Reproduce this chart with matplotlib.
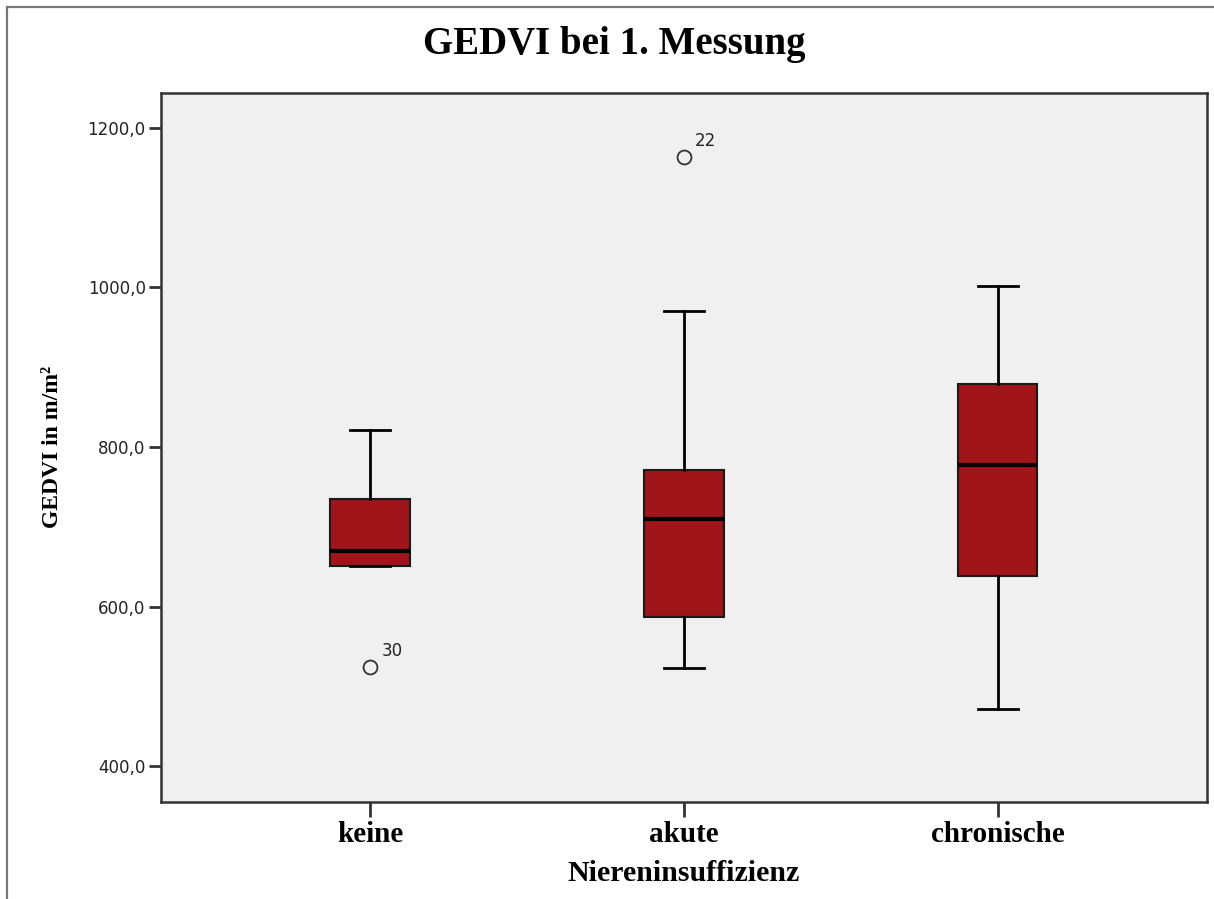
import numpy as np
import matplotlib
matplotlib.use('Agg')
import matplotlib.pyplot as plt
from matplotlib.lines import Line2D

gruppen = ['keine', 'akute', 'chronische']
whisker_unten = [651, 523, 472]
q1 = [651, 587, 639]
median = [670, 710, 777]
q3 = [735, 771, 879]
whisker_oben = [821, 970, 1002]
ausreisser = [[524], [1163], []]
ausreisser_nr = [['30'], ['22'], []]

y_ticks = [400, 600, 800, 1000, 1200]
y_ticklabels = ['400,0', '600,0', '800,0', '1000,0', '1200,0']

serif = ['Liberation Serif', 'DejaVu Serif']
rot = '#A01519'

fig = plt.figure(figsize=(12.14, 8.99), dpi=100)
ax = fig.add_axes([0.1326, 0.1079, 0.8614, 0.789])
ax.set_facecolor('#F0F0F0')

stats = []
for i in range(len(gruppen)):
    stats.append({'whislo': whisker_unten[i], 'q1': q1[i], 'med': median[i],
                  'q3': q3[i], 'whishi': whisker_oben[i], 'fliers': ausreisser[i],
                  'label': gruppen[i]})

pos = np.arange(1, len(gruppen) + 1)
ax.bxp(stats, positions=pos, widths=0.255, patch_artist=True, showfliers=True,
       boxprops=dict(facecolor=rot, edgecolor='#1a1a1a', linewidth=1.5),
       medianprops=dict(color='black', linewidth=3),
       whiskerprops=dict(color='black', linewidth=2),
       capprops=dict(color='black', linewidth=2),
       flierprops=dict(marker='o', markersize=10, markerfacecolor='none',
                       markeredgecolor='#333333', markeredgewidth=1.3))

# Fallnummern neben die Ausreisser
for i in range(len(gruppen)):
    for v, nr in zip(ausreisser[i], ausreisser_nr[i]):
        ax.annotate(nr, (pos[i], v), xytext=(8, 8), textcoords='offset points',
                    fontsize=12, color='#222222', family='DejaVu Sans')

ax.set_xlim(0.333, 3.667)
ax.set_ylim(355.3, 1243.9)
ax.set_yticks(y_ticks)
ax.set_yticklabels(y_ticklabels, fontsize=12, color='#222222', family='DejaVu Sans')
ax.set_xticks(pos)
ax.set_xticklabels(gruppen, fontsize=21, fontweight='bold', family=serif)
ax.tick_params(axis='y', length=9, width=2, color='#333333', pad=2)
ax.tick_params(axis='x', length=11, width=2, color='#333333', pad=3)

for s in ax.spines.values():
    s.set_color('#333333')
    s.set_linewidth(1.8)

ax.set_xlabel('Niereninsuffizienz', fontsize=21.5, fontweight='bold', family=serif,
              labelpad=8)
fig.text(52 / 1214, 0.5028, 'GEDVI in m/m²', rotation=90, ha='center', va='center',
         fontsize=17, fontweight='bold', family=serif)
fig.text(0.506, 0.95, 'GEDVI bei 1. Messung', ha='center', va='center',
         fontsize=28, fontweight='bold', family=serif)

# Rahmen oben und links
fig.add_artist(Line2D([7 / 1214, 1213 / 1214], [1 - 7 / 899, 1 - 7 / 899],
                      color='#777777', linewidth=1.6, transform=fig.transFigure))
fig.add_artist(Line2D([7 / 1214, 7 / 1214], [0, 1 - 7 / 899],
                      color='#777777', linewidth=1.6, transform=fig.transFigure))

fig.savefig('out.png', dpi=100, facecolor='white')
